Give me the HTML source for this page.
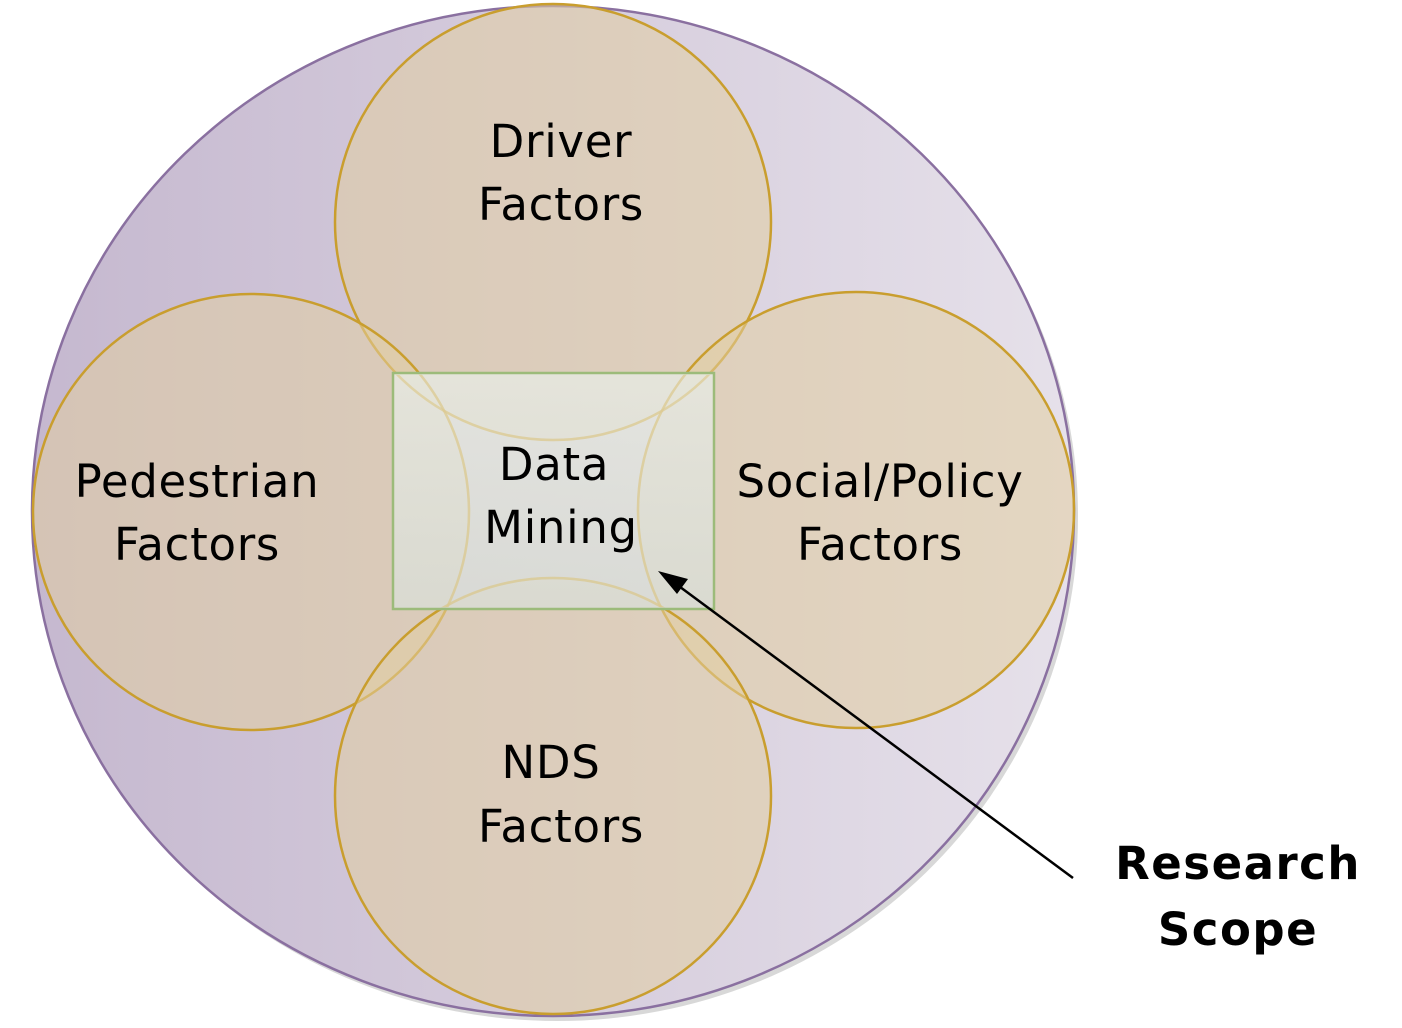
<!DOCTYPE html>
<html><head><style>
html,body{margin:0;padding:0;background:#fff;}
svg{display:block;}
text{font-family:"DejaVu Sans","Liberation Sans",sans-serif;font-size:45px;fill:#000;letter-spacing:0.7px;}
</style></head><body>
<svg width="1402" height="1028" viewBox="0 0 1402 1028" xmlns="http://www.w3.org/2000/svg">
<defs>
<linearGradient id="bg" x1="0" x2="1" y1="0" y2="0">
<stop offset="0" stop-color="#c5b8cf"/><stop offset="1" stop-color="#e6e1ea"/>
</linearGradient>
<linearGradient id="rg" x1="0" x2="0" y1="0" y2="1">
<stop offset="0" stop-color="#e6e8e0"/><stop offset="1" stop-color="#d9dcd4"/>
</linearGradient>
<clipPath id="rc"><rect x="395" y="375" width="317" height="232"/></clipPath>
</defs>
<ellipse cx="557" cy="516" rx="521" ry="505" fill="#d8d8d8"/>
<ellipse cx="553" cy="511" rx="521" ry="505" fill="url(#bg)" stroke="#8a70a0" stroke-width="2.5"/>
<g fill="rgba(225,205,160,0.55)" stroke="#c99e2e" stroke-width="2.5">
<circle cx="553" cy="222" r="218"/>
<circle cx="251" cy="512" r="218"/>
<circle cx="856" cy="510" r="218"/>
<circle cx="553" cy="796" r="218"/>
</g>
<rect x="393" y="373" width="321" height="236" fill="url(#rg)" fill-opacity="0.85" stroke="#9cbb7a" stroke-width="2.5"/>
<g fill="none" stroke="rgba(220,200,140,0.6)" stroke-width="2.5" clip-path="url(#rc)">
<circle cx="553" cy="222" r="218"/>
<circle cx="251" cy="512" r="218"/>
<circle cx="856" cy="510" r="218"/>
<circle cx="553" cy="796" r="218"/>
</g>
<g text-anchor="middle">
<text x="561" y="157">Driver</text>
<text x="561" y="220">Factors</text>
<text x="197" y="497">Pedestrian</text>
<text x="197" y="560">Factors</text>
<text x="880" y="497">Social/Policy</text>
<text x="880" y="560">Factors</text>
<text x="551" y="778">NDS</text>
<text x="561" y="842">Factors</text>
<text x="554" y="480">Data</text>
<text x="561" y="543">Mining</text>
<text x="1238" y="879" font-weight="bold" font-size="50" style="letter-spacing:1.5px">Research</text>
<text x="1238" y="945" font-weight="bold" font-size="50" style="letter-spacing:1.5px">Scope</text>
</g>
<line x1="1073" y1="878" x2="672" y2="581" stroke="#000" stroke-width="2.5"/>
<polygon points="658,571 688,579 677,594" fill="#000"/>
</svg>
</body></html>
